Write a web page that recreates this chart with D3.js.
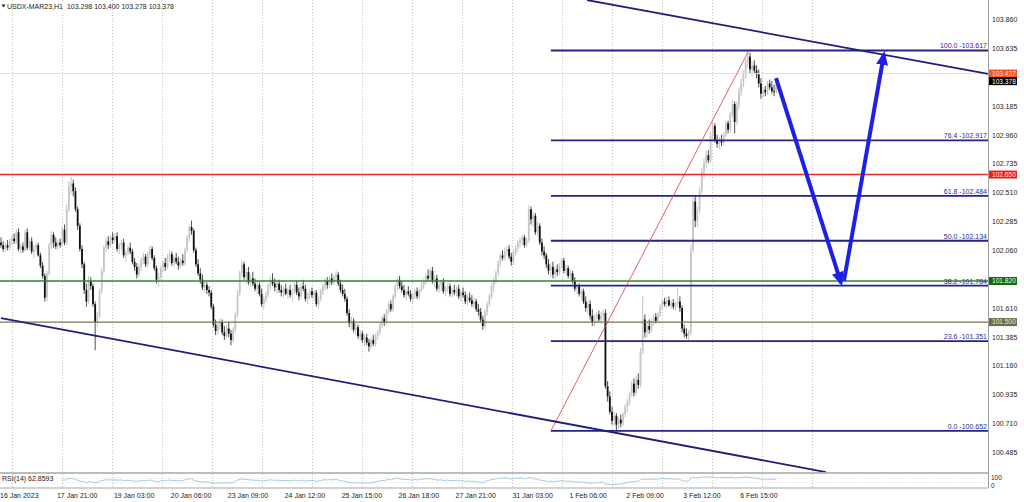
<!DOCTYPE html>
<html><head><meta charset="utf-8">
<script src="https://cdn.jsdelivr.net/npm/d3@7"></script>
<style>
body{margin:0;background:#fff;}
svg{display:block;font-family:"Liberation Sans",Arial,sans-serif;}
</style>
</head><body>
<svg id="c" width="1024" height="502"></svg>
<script>
// ---------------- DATA ----------------
const symbolTitle = "USDX-MAR23,H1  103.298 103.400 103.278 103.378";
const rsiTitle = "RSI(14) 62.8593";

const opens = [
102.12,102.10,102.07,102.10,102.08,102.13,102.15,102.13,102.20,102.07,
102.09,102.06,102.20,102.08,102.13,102.05,102.07,102.10,102.02,101.94,
101.86,101.69,101.88,102.10,102.18,102.12,102.09,102.12,102.10,102.22,
102.12,102.38,102.56,102.58,102.52,102.38,102.25,102.07,101.95,101.75,
101.66,101.82,101.78,101.64,101.50,101.55,101.74,101.90,102.08,102.13,
102.10,102.16,102.14,102.17,102.07,
102.10,102.12,102.02,102.04,102.08,102.05,101.97,101.93,101.87,101.93,
101.98,102.01,101.95,102.03,102.07,102.00,101.92,101.83,101.85,101.92,
101.96,101.93,102.01,102.03,101.96,102.00,101.97,101.94,101.98,101.96,
102.06,102.16,102.24,102.21,102.06,101.95,101.88,101.83,101.77,101.79,
101.75,101.73,101.62,101.48,101.43,101.47,101.50,101.42,101.39,101.45,
101.41,101.36,101.44,101.56,101.72,101.88,101.95,101.85,101.89,101.81,
101.84,101.80,101.76,101.79,101.72,101.64,101.68,101.71,101.78,101.83,
101.80,101.77,101.80,101.75,101.73,101.76,101.72,101.75,101.71,101.74,
101.79,101.73,101.70,101.78,101.76,101.68,101.71,101.74,101.71,101.73,
101.64,101.68,101.74,101.78,101.82,101.79,101.84,101.81,101.85,101.87,
101.80,101.75,101.72,101.68,101.57,101.49,101.51,101.44,101.46,101.39,
101.41,101.36,101.38,101.34,101.31,101.36,101.33,101.39,101.42,101.48,
101.53,101.50,101.58,101.64,101.60,101.70,101.78,101.83,101.78,101.75,
101.71,101.74,101.72,101.68,101.71,101.74,101.70,101.75,101.79,101.82,
101.86,101.84,101.90,101.82,101.84,101.76,101.79,101.81,101.74,101.76,
101.78,101.72,101.75,101.73,101.76,101.70,101.73,101.71,101.66,101.69,
101.67,101.64,101.66,101.60,101.58,101.52,101.47,101.58,101.64,101.70,
101.78,101.82,101.88,101.96,102.02,102.00,102.05,102.07,102.01,101.97,
102.04,102.08,102.12,102.14,102.16,102.10,102.14,102.38,102.30,102.33,
102.20,102.25,102.12,102.05,102.02,101.95,101.90,101.93,101.87,101.91,
101.89,101.94,101.98,101.90,101.92,101.86,101.88,101.82,101.76,101.78,
101.72,101.74,101.66,101.61,101.64,101.55,101.50,101.53,101.56,101.52,
101.55,101.57,101.00,100.92,100.80,100.73,100.77,100.70,100.74,100.71,
100.78,100.84,100.88,100.94,101.02,100.95,101.05,101.01,101.27,101.52,
101.42,101.47,101.44,101.50,101.54,101.51,101.56,101.62,101.66,101.64,
101.67,101.63,101.65,101.62,101.64,101.66,101.61,101.45,101.41,101.39,
101.42,102.06,102.44,102.29,102.37,102.52,102.67,102.74,102.80,102.76,
102.95,103.03,102.92,102.89,102.92,102.90,102.96,103.05,103.00,103.12,
103.20,103.06,103.19,103.30,103.37,103.43,103.52,103.57,103.47,103.50,
103.46,103.43,103.36,103.28,103.31,103.29,103.36,103.33,103.30,103.298];

const highs = [
102.16,102.13,102.12,102.14,102.15,102.18,102.19,102.22,102.23,102.11,
102.12,102.22,102.23,102.15,102.16,102.10,102.12,102.12,102.04,101.97,
101.88,101.90,102.12,102.21,102.20,102.16,102.14,102.15,102.24,102.26,
102.42,102.60,102.63,102.61,102.55,102.40,102.27,102.10,101.97,101.80,
101.86,101.85,101.80,101.66,101.58,101.76,101.92,102.10,102.16,102.17,
102.18,102.20,102.19,102.20,102.12,
102.14,102.15,102.06,102.10,102.12,102.07,102.00,101.96,101.95,102.00,
102.04,102.03,102.05,102.10,102.09,102.02,101.94,101.88,101.94,101.98,
102.00,102.03,102.06,102.05,102.02,102.04,102.01,102.00,102.03,102.08,
102.18,102.26,102.29,102.23,102.08,101.99,101.92,101.87,101.82,101.81,
101.78,101.75,101.64,101.52,101.50,101.53,101.52,101.47,101.48,101.50,
101.44,101.46,101.58,101.75,101.90,101.98,101.97,101.92,101.93,101.87,
101.89,101.84,101.82,101.81,101.76,101.70,101.74,101.80,101.86,101.88,
101.84,101.82,101.83,101.79,101.78,101.80,101.77,101.79,101.76,101.81,
101.82,101.77,101.80,101.83,101.79,101.73,101.76,101.77,101.75,101.75,
101.70,101.76,101.80,101.84,101.85,101.86,101.88,101.87,101.90,101.89,
101.83,101.79,101.76,101.70,101.60,101.54,101.53,101.49,101.48,101.44,
101.43,101.40,101.41,101.37,101.38,101.40,101.41,101.44,101.50,101.55,
101.56,101.60,101.66,101.67,101.72,101.80,101.85,101.86,101.82,101.79,
101.76,101.78,101.75,101.73,101.76,101.77,101.76,101.81,101.84,101.88,
101.91,101.92,101.93,101.86,101.87,101.81,101.83,101.84,101.78,101.80,
101.80,101.77,101.79,101.78,101.79,101.75,101.77,101.74,101.72,101.73,
101.71,101.69,101.68,101.64,101.61,101.55,101.60,101.66,101.72,101.80,
101.85,101.90,101.98,102.04,102.06,102.08,102.09,102.10,102.04,102.06,
102.10,102.14,102.16,102.18,102.18,102.16,102.41,102.40,102.36,102.35,
102.28,102.27,102.15,102.09,102.04,101.99,101.96,101.97,101.93,101.95,
101.96,102.00,102.00,101.95,101.94,101.91,101.90,101.85,101.80,101.80,
101.76,101.76,101.70,101.66,101.67,101.60,101.56,101.58,101.59,101.58,
101.60,101.60,101.04,100.96,100.84,100.80,100.79,100.76,100.78,100.80,
100.86,100.90,100.96,101.04,101.06,101.08,101.10,101.30,101.70,101.56,
101.50,101.52,101.53,101.56,101.57,101.58,101.64,101.68,101.69,101.69,
101.70,101.67,101.68,101.66,101.77,101.70,101.63,101.48,101.45,101.44,
102.10,102.47,102.48,102.40,102.55,102.70,102.78,102.84,102.84,102.98,
103.06,103.05,102.96,102.94,102.96,102.98,103.07,103.07,103.14,103.23,
103.22,103.22,103.33,103.40,103.46,103.55,103.617,103.60,103.53,103.54,
103.50,103.47,103.40,103.33,103.34,103.38,103.39,103.38,103.35,103.400];

const lows = [
102.08,102.05,102.05,102.06,102.06,102.10,102.11,102.11,102.05,102.03,
102.04,102.05,102.06,102.06,102.03,102.00,102.04,102.01,101.92,101.84,
101.66,101.66,101.86,102.07,102.08,102.07,102.06,102.08,102.09,102.10,
102.10,102.36,102.50,102.48,102.36,102.22,102.05,101.92,101.72,101.62,
101.64,101.75,101.62,101.28,101.46,101.53,101.72,101.88,102.05,102.07,
102.08,102.11,102.12,102.05,102.03,
102.06,102.00,101.97,102.02,102.03,101.95,101.90,101.84,101.85,101.90,
101.95,101.93,101.93,102.00,101.98,101.90,101.80,101.78,101.83,101.89,
101.90,101.91,101.97,101.94,101.93,101.95,101.91,101.92,101.94,101.94,
102.04,102.13,102.18,102.04,101.93,101.86,101.80,101.75,101.73,101.72,
101.70,101.60,101.46,101.40,101.40,101.44,101.40,101.36,101.37,101.38,
101.32,101.34,101.42,101.54,101.70,101.85,101.83,101.80,101.79,101.77,
101.78,101.74,101.72,101.70,101.62,101.60,101.65,101.69,101.75,101.78,
101.74,101.72,101.73,101.70,101.69,101.71,101.68,101.69,101.66,101.72,
101.71,101.67,101.68,101.74,101.66,101.64,101.68,101.69,101.67,101.62,
101.61,101.66,101.71,101.75,101.76,101.77,101.79,101.79,101.82,101.78,
101.73,101.70,101.66,101.55,101.46,101.44,101.42,101.40,101.37,101.35,
101.34,101.31,101.32,101.27,101.29,101.31,101.31,101.36,101.40,101.45,
101.47,101.48,101.56,101.58,101.58,101.68,101.75,101.76,101.73,101.69,
101.67,101.70,101.66,101.65,101.68,101.68,101.68,101.73,101.76,101.79,
101.82,101.82,101.80,101.77,101.74,101.73,101.74,101.72,101.70,101.73,
101.70,101.69,101.71,101.70,101.68,101.66,101.69,101.64,101.63,101.65,
101.62,101.61,101.58,101.55,101.50,101.44,101.45,101.55,101.62,101.68,
101.74,101.80,101.86,101.93,101.98,101.98,102.02,101.99,101.94,101.95,
102.02,102.05,102.08,102.10,102.08,102.08,102.12,102.26,102.24,102.18,
102.17,102.10,102.02,101.99,101.92,101.87,101.85,101.84,101.84,101.86,
101.87,101.92,101.88,101.86,101.84,101.83,101.80,101.74,101.72,101.70,
101.68,101.64,101.58,101.56,101.52,101.47,101.46,101.49,101.50,101.49,
101.51,100.98,100.88,100.78,100.70,100.69,100.652,100.67,100.68,100.69,
100.76,100.80,100.85,100.92,100.92,100.93,100.98,100.99,101.25,101.38,
101.38,101.41,101.42,101.47,101.49,101.49,101.54,101.60,101.62,101.61,
101.62,101.60,101.60,101.59,101.62,101.58,101.42,101.38,101.37,101.36,
101.40,102.04,102.24,102.24,102.35,102.50,102.62,102.70,102.74,102.74,
102.92,102.90,102.86,102.85,102.87,102.88,102.94,102.97,102.98,103.10,
102.97,103.04,103.16,103.26,103.33,103.40,103.48,103.44,103.42,103.44,
103.40,103.33,103.24,103.25,103.26,103.27,103.31,103.28,103.26,103.278];

const closes = [
102.10,102.07,102.10,102.08,102.13,102.15,102.13,102.20,102.07,102.09,
102.06,102.20,102.08,102.13,102.05,102.07,102.10,102.02,101.94,101.86,
101.69,101.88,102.10,102.18,102.12,102.09,102.12,102.10,102.22,102.12,
102.38,102.56,102.58,102.52,102.38,102.25,102.07,101.95,101.75,101.66,
101.82,101.78,101.64,101.50,101.55,101.74,101.90,102.08,102.13,102.10,
102.16,102.14,102.17,102.07,102.10,
102.12,102.02,102.04,102.08,102.05,101.97,101.93,101.87,101.93,101.98,
102.01,101.95,102.03,102.07,102.00,101.92,101.83,101.85,101.92,101.96,
101.93,102.01,102.03,101.96,102.00,101.97,101.94,101.98,101.96,102.06,
102.16,102.24,102.21,102.06,101.95,101.88,101.83,101.77,101.79,101.75,
101.73,101.62,101.48,101.43,101.47,101.50,101.42,101.39,101.45,101.41,
101.36,101.44,101.56,101.72,101.88,101.95,101.85,101.89,101.81,101.84,
101.80,101.76,101.79,101.72,101.64,101.68,101.71,101.78,101.83,101.80,
101.77,101.80,101.75,101.73,101.76,101.72,101.75,101.71,101.74,101.79,
101.73,101.70,101.78,101.76,101.68,101.71,101.74,101.71,101.73,101.64,
101.68,101.74,101.78,101.82,101.79,101.84,101.81,101.85,101.87,101.80,
101.75,101.72,101.68,101.57,101.49,101.51,101.44,101.46,101.39,101.41,
101.36,101.38,101.34,101.31,101.36,101.33,101.39,101.42,101.48,101.53,
101.50,101.58,101.64,101.60,101.70,101.78,101.83,101.78,101.75,101.71,
101.74,101.72,101.68,101.71,101.74,101.70,101.75,101.79,101.82,101.86,
101.84,101.90,101.82,101.84,101.76,101.79,101.81,101.74,101.76,101.78,
101.72,101.75,101.73,101.76,101.70,101.73,101.71,101.66,101.69,101.67,
101.64,101.66,101.60,101.58,101.52,101.47,101.58,101.64,101.70,101.78,
101.82,101.88,101.96,102.02,102.00,102.05,102.07,102.01,101.97,102.04,
102.08,102.12,102.14,102.16,102.10,102.14,102.38,102.30,102.33,102.20,
102.25,102.12,102.05,102.02,101.95,101.90,101.93,101.87,101.91,101.89,
101.94,101.98,101.90,101.92,101.86,101.88,101.82,101.76,101.78,101.72,
101.74,101.66,101.61,101.64,101.55,101.50,101.53,101.56,101.52,101.55,
101.57,101.00,100.92,100.80,100.73,100.77,100.70,100.74,100.71,100.78,
100.84,100.88,100.94,101.02,100.95,101.05,101.01,101.27,101.52,101.42,
101.47,101.44,101.50,101.54,101.51,101.56,101.62,101.66,101.64,101.67,
101.63,101.65,101.62,101.64,101.66,101.61,101.45,101.41,101.39,101.42,
102.06,102.44,102.29,102.37,102.52,102.67,102.74,102.80,102.76,102.95,
103.03,102.92,102.89,102.92,102.90,102.96,103.05,103.00,103.12,103.20,
103.06,103.19,103.30,103.37,103.43,103.52,103.57,103.47,103.50,103.46,
103.43,103.36,103.28,103.31,103.29,103.36,103.33,103.30,103.298,103.378];

// time axis labels and the bar index each one belongs to
const timeLabels = ["16 Jan 2023","17 Jan 21:00","19 Jan 03:00","20 Jan 06:00","23 Jan 09:00",
  "24 Jan 12:00","25 Jan 15:00","26 Jan 18:00","27 Jan 21:00","31 Jan 03:00",
  "1 Feb 06:00","2 Feb 09:00","3 Feb 12:00","6 Feb 15:00"];
const timeLabelBars = [0,26,52,78,104,130,156,182,208,234,260,286,312,338];

// price axis ticks (the ones not hidden behind the price markers)
const priceTicks = [103.860,103.635,103.185,102.960,102.735,102.510,102.285,
  102.060,101.610,101.385,101.160,100.935,100.710,100.485];

// fibonacci retracement
const fibLevelNames = ["0.0","23.6","38.2","50.0","61.8","76.4","100.0"];
const fibLevelPrices = [100.652,101.351,101.784,102.134,102.484,102.917,103.617];
const fibAnchorBars = [251.1, 341.5];
const fibAnchorPrices = [100.652, 103.617];

// horizontal lines: ask, resistance, support levels
const askPrice = 103.437;
const bidPrice = 103.378;
const levelPrices = [102.650, 101.820, 101.500];

// channel trend lines (bar index, price)
const upperChannelBars = [267.6, 450.7];
const upperChannelPrices = [104.010, 103.434];
const lowerChannelBars = [0, 376.7];
const lowerChannelPrices = [101.531, 100.331];

// forecast arrows (bar index, price)
const arrowBars = [[353.9, 383.6], [384.9, 403.2]];
const arrowPrices = [[103.402, 101.804], [101.820, 103.590]];

// RSI panel scale labels
const rsiScaleLabels = ["100","0"];
const rsiScaleValues = [100,0];

// ---------------- LAYOUT ----------------
const W = 1024, H = 502;
const plotRight = 988.5;
const mainBottom = 472.5;
const rsiTop = 473.5, rsiBottom = 488;
const FONT = 7;

const svg = d3.select("#c");
const N = closes.length;

const x = d3.scaleLinear().domain([0, N - 1]).range([1, 1 + 2.19 * (N - 1)]);
const y = d3.scaleLinear().domain([100.485, 103.860]).range([452.3, 19.3]);
const yr = d3.scaleLinear().domain([0, 100]).range([486.5, 474.5]);

svg.append("rect").attr("width", W).attr("height", H).attr("fill", "#fff");

const defs = svg.append("defs");
defs.append("clipPath").attr("id", "mainClip")
  .append("rect").attr("x", 0).attr("y", 0).attr("width", plotRight).attr("height", mainBottom);
defs.append("clipPath").attr("id", "rsiClip")
  .append("rect").attr("x", 0).attr("y", rsiTop).attr("width", plotRight).attr("height", rsiBottom - rsiTop);
defs.append("marker").attr("id", "ah")
  .attr("markerUnits", "userSpaceOnUse")
  .attr("viewBox", "0 0 14 12").attr("refX", 11).attr("refY", 6)
  .attr("markerWidth", 14).attr("markerHeight", 12).attr("orient", "auto")
  .append("path").attr("d", "M0,0 L14,6 L0,12 Z").attr("fill", "#1f1fe6");

// vertical dotted grid
svg.append("g").selectAll("line").data(d3.range(12.5, 813, 50)).join("line")
  .attr("x1", d => d).attr("x2", d => d).attr("y1", 0).attr("y2", rsiBottom)
  .attr("stroke", "#c4c4c4").attr("stroke-width", 1).attr("stroke-dasharray", "1,2");

const main = svg.append("g").attr("clip-path", "url(#mainClip)");

// candles
const bars = main.append("g").selectAll("g").data(d3.range(N)).join("g");
bars.append("line")
  .attr("x1", i => x(i)).attr("x2", i => x(i))
  .attr("y1", i => y(highs[i])).attr("y2", i => y(lows[i]))
  .attr("stroke", i => closes[i] >= opens[i] ? "#b4b4b4" : "#222")
  .attr("stroke-width", 0.8);
bars.append("rect")
  .attr("x", i => x(i) - 0.9).attr("width", 1.8)
  .attr("y", i => y(Math.max(opens[i], closes[i])))
  .attr("height", i => Math.max(0.8, Math.abs(y(opens[i]) - y(closes[i]))))
  .attr("fill", i => closes[i] >= opens[i] ? "#c6c6c6" : "#111");

// ask line
main.append("line").attr("x1", 0).attr("x2", plotRight).attr("y1", y(askPrice)).attr("y2", y(askPrice))
  .attr("stroke", "#f3dcc0").attr("stroke-width", 1);

// level lines
const levelColors = ["#e8282a", "#2a8a2a", "#767650"];
const levelWidths = [1.6, 1.6, 1.4];
main.append("g").selectAll("line").data(levelPrices).join("line")
  .attr("x1", 0).attr("x2", plotRight)
  .attr("y1", d => y(d)).attr("y2", d => y(d))
  .attr("stroke", (d, i) => levelColors[i]).attr("stroke-width", (d, i) => levelWidths[i]);

// fib levels
const fibColor = "#23238a";
main.append("g").selectAll("line").data(fibLevelPrices).join("line")
  .attr("x1", x(fibAnchorBars[0])).attr("x2", plotRight)
  .attr("y1", d => y(d)).attr("y2", d => y(d))
  .attr("stroke", fibColor).attr("stroke-width", 1.8);
main.append("g").selectAll("text").data(fibLevelPrices).join("text")
  .attr("x", plotRight - 1.5).attr("y", d => y(d) - 2)
  .attr("text-anchor", "end").attr("font-size", FONT).attr("fill", "#2c2c8c")
  .text((d, i) => fibLevelNames[i] + " -" + d.toFixed(3));
// fib trend line
main.append("line")
  .attr("x1", x(fibAnchorBars[0])).attr("y1", y(fibAnchorPrices[0]))
  .attr("x2", x(fibAnchorBars[1])).attr("y2", y(fibAnchorPrices[1]))
  .attr("stroke", "#d83a3a").attr("stroke-width", 0.8);

// channel lines
const line = d3.line().x(d => x(d[0])).y(d => y(d[1]));
main.append("path").attr("d", line(upperChannelBars.map((b, i) => [b, upperChannelPrices[i]])))
  .attr("fill", "none").attr("stroke", "#1e1e7e").attr("stroke-width", 1.8);
main.append("path").attr("d", line(lowerChannelBars.map((b, i) => [b, lowerChannelPrices[i]])))
  .attr("fill", "none").attr("stroke", "#1e1e7e").attr("stroke-width", 1.8);

// forecast arrows
arrowBars.forEach((bs, k) => {
  main.append("path").attr("d", line(bs.map((b, i) => [b, arrowPrices[k][i]])))
    .attr("fill", "none").attr("stroke", "#1f1fe6").attr("stroke-width", 4)
    .attr("stroke-linecap", "butt").attr("marker-end", "url(#ah)");
});

// ---------------- RSI ----------------
function rsiCalc(cl, n) {
  const out = new Array(cl.length).fill(null);
  let g = 0, l = 0;
  for (let i = 1; i <= n; i++) { const d = cl[i] - cl[i - 1]; if (d > 0) g += d; else l -= d; }
  g /= n; l /= n;
  out[n] = l === 0 ? 100 : 100 - 100 / (1 + g / l);
  for (let i = n + 1; i < cl.length; i++) {
    const d = cl[i] - cl[i - 1];
    g = (g * (n - 1) + Math.max(d, 0)) / n;
    l = (l * (n - 1) + Math.max(-d, 0)) / n;
    out[i] = l === 0 ? 100 : 100 - 100 / (1 + g / l);
  }
  return out;
}
const rsiVals = rsiCalc(closes, 14);
const rsiG = svg.append("g").attr("clip-path", "url(#rsiClip)");
rsiG.selectAll("line.lvl").data([70, 30]).join("line").attr("class", "lvl")
  .attr("x1", 0).attr("x2", plotRight).attr("y1", d => yr(d)).attr("y2", d => yr(d))
  .attr("stroke", "#d8d8d8").attr("stroke-width", 0.8).attr("stroke-dasharray", "1,2");
rsiG.append("path")
  .attr("d", d3.line().defined((d, i) => i >= 28 && d != null).x((d, i) => x(i)).y(d => yr(d))(rsiVals))
  .attr("fill", "none").attr("stroke", "#8cbfd2").attr("stroke-width", 0.8);

// panel borders
svg.append("line").attr("x1", 0).attr("x2", plotRight).attr("y1", mainBottom + 0.5).attr("y2", mainBottom + 0.5)
  .attr("stroke", "#a6a6a6").attr("stroke-width", 1.6);
svg.append("line").attr("x1", 0).attr("x2", plotRight).attr("y1", rsiBottom).attr("y2", rsiBottom)
  .attr("stroke", "#a6a6a6").attr("stroke-width", 1.2);
svg.append("line").attr("x1", plotRight).attr("x2", plotRight).attr("y1", 0).attr("y2", rsiBottom)
  .attr("stroke", "#a0a0a0").attr("stroke-width", 1);

svg.append("text").attr("x", 2).attr("y", 480.5).attr("font-size", FONT).attr("fill", "#222").text(rsiTitle);
svg.append("g").selectAll("text").data(rsiScaleValues).join("text")
  .attr("x", 991).attr("y", (d, i) => [480.2, 487.6][i])
  .attr("font-size", 6.5).attr("fill", "#222").text((d, i) => rsiScaleLabels[i]);

// ---------------- AXES ----------------
const yAxis = svg.append("g").attr("transform", `translate(${plotRight},0)`)
  .call(d3.axisRight(y).tickValues(priceTicks).tickSize(0).tickFormat(d3.format(".3f")));
yAxis.select(".domain").remove();
yAxis.selectAll("text").attr("x", 3.5).attr("font-size", FONT).attr("font-family", "Liberation Sans, Arial, sans-serif").attr("fill", "#222");

const xAxis = svg.append("g").attr("transform", `translate(0,${rsiBottom})`)
  .call(d3.axisBottom(x).tickValues(timeLabelBars).tickSize(0).tickFormat((d, i) => timeLabels[i]));
xAxis.select(".domain").remove();
xAxis.selectAll("text").attr("y", 10).attr("dy", 0).attr("x", -1.5).attr("text-anchor", "start")
  .attr("font-size", FONT).attr("font-family", "Liberation Sans, Arial, sans-serif").attr("fill", "#222");

// price marker boxes
const markerPrices = [askPrice, bidPrice, levelPrices[0], levelPrices[1], levelPrices[2]];
const markerBg = ["#f4532a", "#000000", "#e8201e", "#116c11", "#6f6f45"];
const markerFg = ["#ffe8d8", "#ffffff", "#ffe0e0", "#e8ffe8", "#ececd0"];
const mk = svg.append("g").selectAll("g").data(markerPrices).join("g")
  .attr("transform", d => `translate(${plotRight + 0.5},${y(d)})`);
mk.append("rect").attr("x", 0).attr("y", -4).attr("width", 28).attr("height", 8)
  .attr("fill", (d, i) => markerBg[i]);
mk.append("text").attr("x", 3).attr("y", 2.4).attr("font-size", 6.6)
  .attr("fill", (d, i) => markerFg[i]).text(d => d.toFixed(3));

// header
svg.append("path").attr("d", "M1.5,4.5 L5.5,4.5 L3.5,7.5 Z").attr("fill", "#222");
svg.append("text").attr("x", 7).attr("y", 9).attr("font-size", FONT).attr("fill", "#222")
  .attr("xml:space", "preserve").style("white-space", "pre").text(symbolTitle);
</script>
</body></html>
